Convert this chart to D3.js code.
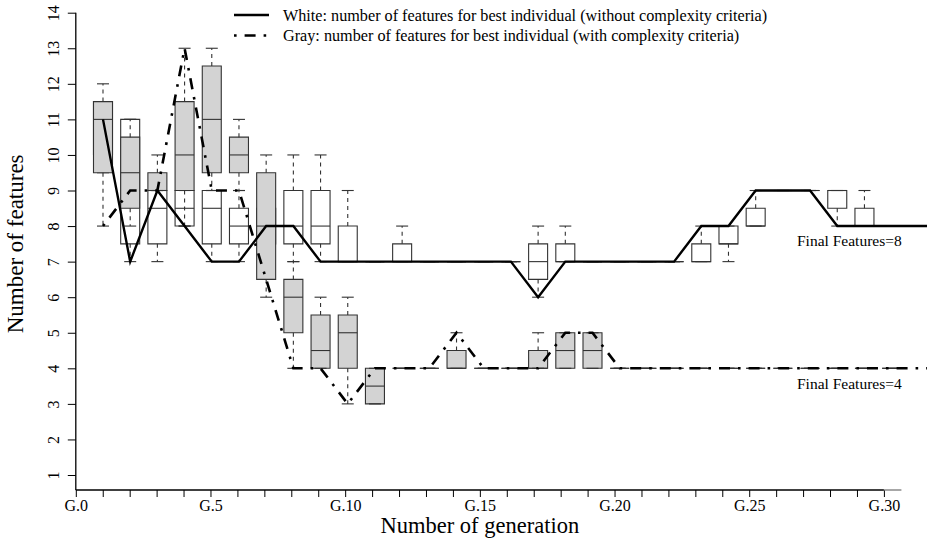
<!DOCTYPE html>
<html>
<head>
<meta charset="utf-8">
<script src="https://cdn.jsdelivr.net/npm/d3@7"></script>
<style>
  body { margin: 0; background: #fff; }
  svg { font-family: "Liberation Serif", "Times New Roman", serif; }
</style>
</head>
<body>
<svg id="chart" width="932" height="540"></svg>
<script>
// generation index of every box pair
const generations = [1, 2, 3, 4, 5, 6, 7, 8, 9, 10, 11, 12, 13, 14, 15,
  16, 17, 18, 19, 20, 21, 22, 23, 24, 25, 26, 27, 28, 29, 30]

// [min, q1, median, q3, max] -- white = without complexity criteria
const whiteStats = [
  [9.5, 10, 11, 11.5, 11.5], [7, 7.5, 9, 11, 11], [7, 7.5, 8.5, 9, 9],
  [8, 8, 8.5, 9, 9], [7, 7.5, 8.5, 9, 9], [7, 7.5, 8, 8.5, 9],
  [7, 7.5, 8, 8.5, 9], [7, 7.5, 8, 9, 10], [7, 7.5, 8, 9, 10],
  [7, 7, 7, 8, 9], [7, 7, 7, 7, 7], [7, 7, 7, 7.5, 8],
  [7, 7, 7, 7, 7], [7, 7, 7, 7, 7], [7, 7, 7, 7, 7],
  [7, 7, 7, 7, 7], [6, 6.5, 7, 7.5, 8], [7, 7, 7, 7.5, 8],
  [7, 7, 7, 7, 7], [7, 7, 7, 7, 7], [7, 7, 7, 7, 7],
  [7, 7, 7, 7, 7], [7, 7, 7, 7.5, 8], [7, 7.5, 7.5, 8, 8],
  [8, 8, 8, 8.5, 9], [9, 9, 9, 9, 9], [9, 9, 9, 9, 9],
  [8, 8.5, 9, 9, 9], [8, 8, 8, 8.5, 9], [8, 8, 8, 8, 8]
]

// [min, q1, median, q3, max] -- gray = with complexity criteria
const grayStats = [
  [8, 9.5, 11, 11.5, 12], [8, 8.5, 9.5, 10.5, 11], [9, 9, 9, 9.5, 10],
  [8, 9, 10, 11.5, 13], [9, 9.5, 11, 12.5, 13], [9, 9.5, 10, 10.5, 11],
  [6, 6.5, 8, 9.5, 10], [4, 5, 6, 6.5, 7], [4, 4, 4.5, 5.5, 6],
  [3, 4, 5, 5.5, 6], [3, 3, 3.5, 4, 4], [4, 4, 4, 4, 4],
  [4, 4, 4, 4, 4], [4, 4, 4, 4.5, 5], [4, 4, 4, 4, 4],
  [4, 4, 4, 4, 4], [4, 4, 4, 4.5, 5], [4, 4, 4.5, 5, 5],
  [4, 4, 4.5, 5, 5], [4, 4, 4, 4, 4], [4, 4, 4, 4, 4],
  [4, 4, 4, 4, 4], [4, 4, 4, 4, 4], [4, 4, 4, 4, 4],
  [4, 4, 4, 4, 4], [4, 4, 4, 4, 4], [4, 4, 4, 4, 4],
  [4, 4, 4, 4, 4], [4, 4, 4, 4, 4], [4, 4, 4, 4, 4]
]

// best individual per generation
const lineGenerations = [1, 2, 3, 4, 5, 6, 7, 8, 9, 10, 11, 12, 13, 14, 15, 16,
  17, 18, 19, 20, 21, 22, 23, 24, 25, 26, 27, 28, 29, 30, 31, 32]
const bestWhite = [11, 7, 9, 8, 7, 7, 8, 8, 7, 7, 7, 7, 7, 7, 7, 7,
  6, 7, 7, 7, 7, 7, 8, 8, 9, 9, 9, 8, 8, 8, 8, 8]
const bestGray = [8, 9, 9, 13, 9, 9, 6.5, 4, 4, 3, 4, 4, 4, 5, 4, 4,
  4, 5, 5, 4, 4, 4, 4, 4, 4, 4, 4, 4, 4, 4, 4, 4]

const xTicks = [0, 1, 2, 3, 4, 5, 6, 7, 8, 9, 10, 11, 12, 13, 14, 15,
  16, 17, 18, 19, 20, 21, 22, 23, 24, 25, 26, 27, 28, 29, 30]
const xLabelEvery = 5
const yTicks = [1, 2, 3, 4, 5, 6, 7, 8, 9, 10, 11, 12, 13, 14]

const legendItems = [
  {label: "White: number of features for best individual (without complexity criteria)", dash: null},
  {label: "Gray: number of features for best individual (with complexity criteria)", dash: "2.6,8,11,8"}
]
const finalNotes = [
  {label: "Final Features=8", value: 8},
  {label: "Final Features=4", value: 4}
]

const svg = d3.select("#chart")
// boxes/lines and the generation axis use slightly different spacing in the original
const x = d3.scaleLinear().domain([0, 31.3]).range([75.8, 927])
const xAxisScale = d3.scaleLinear().domain([0, 31.6]).range(x.range())
const y = d3.scaleLinear().domain([1, 14]).range([475, 12.7])
const axisY = 490
const boxWidth = 19
const stapleWidth = 12

svg.append("defs")
  .append("clipPath")
  .attr("id", "plot-clip")
  .append("rect")
  .attr("x", x.range()[0])
  .attr("y", 0)
  .attr("width", x.range()[1] - x.range()[0])
  .attr("height", axisY)

function drawBoxes(stats, fill, cls) {
  const rows = generations.map((gen, i) => ({gen, s: stats[i]}))
  const boxes = svg.append("g")
    .attr("class", cls)
    .selectAll("g")
    .data(rows)
    .join("g")
    .attr("transform", d => `translate(${x(d.gen)},0)`)

  // box (path so that flat boxes still draw as a segment)
  boxes.append("path")
    .attr("d", d => `M${-boxWidth / 2},${y(d.s[1])}H${boxWidth / 2}V${y(d.s[3])}H${-boxWidth / 2}Z`)
    .attr("fill", fill)
    .attr("stroke", "#333")
    .attr("stroke-width", 1.1)

  boxes.append("line")
    .attr("x1", -boxWidth / 2)
    .attr("x2", boxWidth / 2)
    .attr("y1", d => y(d.s[2]))
    .attr("y2", d => y(d.s[2]))
    .attr("stroke", "#333")
    .attr("stroke-width", 1.1)

  boxes.selectAll(".whisker")
    .data(d => [[d.s[1], d.s[0]], [d.s[3], d.s[4]]].filter(w => w[0] !== w[1]))
    .join("line")
    .attr("class", "whisker")
    .attr("x1", 0)
    .attr("x2", 0)
    .attr("y1", w => y(w[0]))
    .attr("y2", w => y(w[1]))
    .attr("stroke", "#333")
    .attr("stroke-width", 1.1)
    .attr("stroke-dasharray", "4,4")

  boxes.selectAll(".staple")
    .data(d => [d.s[0], d.s[4]])
    .join("line")
    .attr("class", "staple")
    .attr("x1", -stapleWidth / 2)
    .attr("x2", stapleWidth / 2)
    .attr("y1", v => y(v))
    .attr("y2", v => y(v))
    .attr("stroke", "#333")
    .attr("stroke-width", 1.1)
}

drawBoxes(whiteStats, "#ffffff", "white-boxes")
drawBoxes(grayStats, "#d3d3d3", "gray-boxes")

const line = d3.line()
  .x(d => x(d[0]))
  .y(d => y(d[1]))

const lines = svg.append("g").attr("clip-path", "url(#plot-clip)")

lines.append("path")
  .datum(lineGenerations.map((g, i) => [g, bestWhite[i]]))
  .attr("d", line)
  .attr("fill", "none")
  .attr("stroke", "#000")
  .attr("stroke-width", 2.4)

lines.append("path")
  .datum(lineGenerations.map((g, i) => [g, bestGray[i]]))
  .attr("d", line)
  .attr("fill", "none")
  .attr("stroke", "#000")
  .attr("stroke-width", 2.6)
  .attr("stroke-dasharray", legendItems[1].dash)

// axes
const xAxis = svg.append("g")
  .attr("transform", `translate(0,${axisY})`)
  .call(d3.axisBottom(xAxisScale)
    .tickValues(xTicks)
    .tickSize(7)
    .tickPadding(3)
    .tickFormat(d => d % xLabelEvery === 0 ? `G.${d}` : ""))
xAxis.select(".domain").remove()
xAxis.selectAll("text")
  .attr("font-size", 16)
  .attr("font-family", "Liberation Serif")
  .attr("fill", "#000")
xAxis.append("line")
  .attr("x1", xAxisScale(0))
  .attr("x2", xAxisScale(30))
  .attr("stroke", "#000")
  .attr("stroke-width", 1.3)
xAxis.append("line")
  .attr("x1", xAxisScale(30))
  .attr("x2", xAxisScale(30.65))
  .attr("stroke", "#777")
  .attr("stroke-width", 1.3)

const yAxis = svg.append("g")
  .attr("transform", `translate(${x(0)},0)`)
  .call(d3.axisLeft(y).tickValues(yTicks).tickSize(8))
yAxis.select(".domain").remove()
yAxis.selectAll("text")
  .attr("x", null)
  .attr("dy", null)
  .attr("text-anchor", "middle")
  .attr("transform", "translate(-17,0) rotate(-90)")
  .attr("font-size", 16)
  .attr("font-family", "Liberation Serif")
  .attr("fill", "#000")
yAxis.append("line")
  .attr("y1", y(14))
  .attr("y2", axisY)
  .attr("stroke", "#000")
  .attr("stroke-width", 1.3)

svg.append("text")
  .attr("x", xAxisScale(15))
  .attr("y", 533)
  .attr("text-anchor", "middle")
  .attr("font-size", 22.5)
  .text("Number of generation")

svg.append("text")
  .attr("transform", `translate(23,${(y(14) + y(1)) / 2}) rotate(-90)`)
  .attr("text-anchor", "middle")
  .attr("font-size", 23)
  .text("Number of features")

// legend
const legend = svg.append("g")
  .selectAll("g")
  .data(legendItems)
  .join("g")
  .attr("transform", (d, i) => `translate(234,${15 + i * 20.5})`)

legend.append("line")
  .attr("x1", 0)
  .attr("x2", 35)
  .attr("stroke", "#000")
  .attr("stroke-width", d => d.dash ? 2.6 : 2.4)
  .attr("stroke-dasharray", d => d.dash)

legend.append("text")
  .attr("x", 49)
  .attr("dy", "0.35em")
  .attr("font-size", 16.2)
  .text(d => d.label)

svg.append("g")
  .selectAll("text")
  .data(finalNotes)
  .join("text")
  .attr("x", 797)
  .attr("y", d => y(d.value) + 15)
  .attr("dy", "0.35em")
  .attr("font-size", 15.5)
  .text(d => d.label)
</script>
</body>
</html>
